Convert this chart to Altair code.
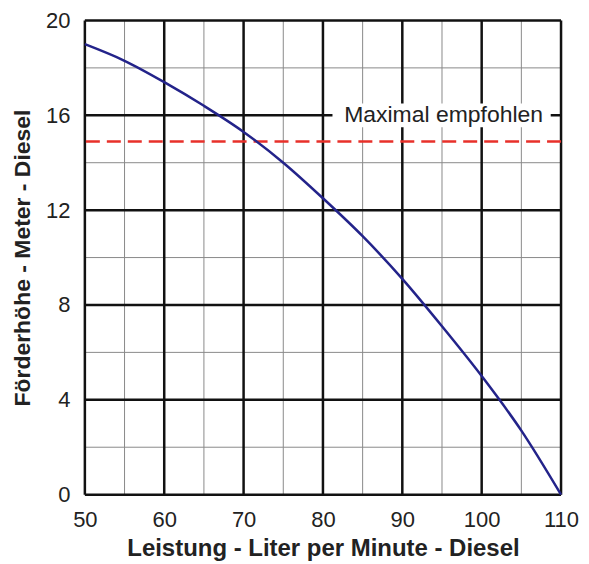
import altair as alt
import pandas as pd

# Pump curve
flow = [50, 55, 60, 65, 70, 75, 80, 85, 90, 95, 100, 105, 110]
head = [19.0, 18.3, 17.4, 16.4, 15.3, 14.0, 12.5, 10.9, 9.1, 7.1, 5.0, 2.7, 0.0]

max_recommended = 14.9
label_text = "Maximal empfohlen"
label_x = 95.2
label_y = 16.0
label_box_x = [81.2, 108.7]
label_box_y = [15.5, 16.5]

x_major = [50, 60, 70, 80, 90, 100, 110]
x_minor = [55, 65, 75, 85, 95, 105]
y_major = [0, 4, 8, 12, 16, 20]
y_minor = [2, 6, 10, 14, 18]

xs = alt.Scale(domain=[50, 110], nice=False, zero=False)
ys = alt.Scale(domain=[0, 20], nice=False)

curve_df = pd.DataFrame({"x": flow, "y": head})

x_axis = alt.Axis(values=x_major, labelPadding=15, labelFlush=False,
                  title="Leistung - Liter per Minute - Diesel",
                  titleFontSize=24, titlePadding=6)
y_axis = alt.Axis(values=y_major, labelPadding=15, labelFlush=False,
                  title="Förderhöhe - Meter - Diesel",
                  titleFontSize=23, titlePadding=11)

minor_v = alt.Chart(pd.DataFrame({"x": x_minor})).mark_rule(color="#8a8a8a", strokeWidth=1).encode(
    x=alt.X("x:Q", scale=xs, axis=x_axis))
minor_h = alt.Chart(pd.DataFrame({"y": y_minor})).mark_rule(color="#8a8a8a", strokeWidth=1).encode(
    y=alt.Y("y:Q", scale=ys, axis=y_axis))
major_v = alt.Chart(pd.DataFrame({"x": x_major})).mark_rule(color="#111111", strokeWidth=2.5).encode(
    x=alt.X("x:Q", scale=xs, axis=x_axis))
major_h = alt.Chart(pd.DataFrame({"y": y_major})).mark_rule(color="#111111", strokeWidth=2.5).encode(
    y=alt.Y("y:Q", scale=ys, axis=y_axis))

box = alt.Chart(pd.DataFrame({"x": [label_box_x[0]], "x2": [label_box_x[1]],
                              "y": [label_box_y[0]], "y2": [label_box_y[1]]})).mark_rect(
    color="white").encode(x=alt.X("x:Q", scale=xs, axis=x_axis), x2="x2:Q",
                          y=alt.Y("y:Q", scale=ys, axis=y_axis), y2="y2:Q")
label = alt.Chart(pd.DataFrame({"x": [label_x], "y": [label_y], "t": [label_text]})).mark_text(
    font="Liberation Sans", fontSize=23, color="#222222", align="center", baseline="middle").encode(
    x=alt.X("x:Q", scale=xs, axis=x_axis), y=alt.Y("y:Q", scale=ys, axis=y_axis), text="t:N")

red = alt.Chart(pd.DataFrame({"y": [max_recommended]})).mark_rule(
    color="#E8302A", strokeWidth=2.5, strokeDash=[14, 7]).encode(y=alt.Y("y:Q", scale=ys, axis=y_axis))

curve = alt.Chart(curve_df).mark_line(color="#23238A", strokeWidth=2.5, interpolate="monotone").encode(
    x=alt.X("x:Q", scale=xs, axis=x_axis), y=alt.Y("y:Q", scale=ys, axis=y_axis))

chart = alt.layer(minor_v, minor_h, major_v, major_h, box, label, red, curve).properties(
    width=477, height=475,
    autosize=alt.AutoSizeParams(type="none"),
    padding={"left": 77, "top": 12, "right": 20, "bottom": 70},
).configure_view(stroke=None).configure_axis(
    grid=False, domain=False, ticks=False, tickSize=0,
    labelFontSize=22, labelFont="Liberation Sans", labelColor="#222222",
    titleFont="Liberation Sans", titleFontWeight="bold", titleColor="#222222",
)

chart.save("out.html", embed_options={"renderer": "svg", "actions": False})
